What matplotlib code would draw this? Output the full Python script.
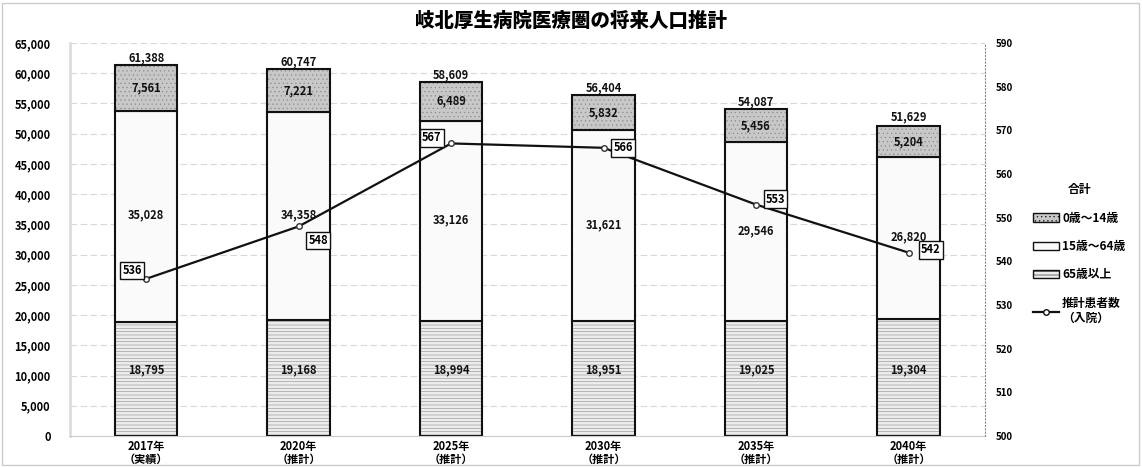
import numpy as np
import matplotlib.pyplot as plt
from matplotlib.lines import Line2D
from matplotlib.patches import Patch

plt.rcParams['font.family'] = ['Noto Sans CJK JP', 'DejaVu Sans']
plt.rcParams['hatch.linewidth'] = 0.4

# data
years = ['2017年\n（実績）', '2020年\n（推計）', '2025年\n（推計）',
         '2030年\n（推計）', '2035年\n（推計）', '2040年\n（推計）']
age_0_14 = [7561, 7221, 6489, 5832, 5456, 5204]
age_15_64 = [35028, 34358, 33126, 31621, 29546, 26820]
age_65 = [18795, 19168, 18994, 18951, 19025, 19304]
totals = [61388, 60747, 58609, 56404, 54087, 51629]
patients = [536, 548, 567, 566, 553, 542]

fig = plt.figure(figsize=(11.42, 4.67), dpi=100)
ax = fig.add_axes([0.0613, 0.0664, 0.801, 0.8415])
ax2 = ax.twinx()

x = np.arange(len(years))
w = 0.41
b1 = ax.bar(x, age_65, w, color='#ececec', edgecolor='#111111', lw=1.5,
            hatch='-----', zorder=2)
b2 = ax.bar(x, age_15_64, w, bottom=age_65, color='#fafafa', edgecolor='#111111',
            lw=1.5, zorder=2)
bot3 = np.array(age_65) + np.array(age_15_64)
b3 = ax.bar(x, age_0_14, w, bottom=bot3, color='#c8c8c8', edgecolor='#111111',
            lw=1.5, hatch='....', zorder=2)
for p in list(b1) + list(b3):
    p._hatch_color = (0.55, 0.55, 0.55, 1)

tkw = dict(ha='center', va='center', fontsize=8, fontweight='bold', color='#111111', zorder=4)
for i in range(len(x)):
    ax.text(x[i], 11000, format(age_65[i], ','), **tkw)
    ax.text(x[i], age_65[i] + age_15_64[i] / 2 + 200, format(age_15_64[i], ','), **tkw)
    ax.text(x[i], bot3[i] + age_0_14[i] / 2, format(age_0_14[i], ','), **tkw)
    ax.text(x[i], totals[i] + 1200, format(totals[i], ','), **tkw)

ax.set_xlim(-0.5, 5.5)
ax.set_ylim(0, 65000)
ax.set_yticks(np.arange(0, 65001, 5000))
ax.set_yticklabels([format(v, ',') for v in range(0, 65001, 5000)])
ax.set_xticks(x)
ax.set_xticklabels(years, fontsize=8, fontweight='bold', linespacing=1.0)
ax.tick_params(axis='y', labelsize=8, length=0, pad=14)
ax.tick_params(axis='x', length=0, pad=3)
for l in ax.get_yticklabels():
    l.set_fontweight('bold')
ax.grid(axis='y', color='#d8d8d8', lw=0.8, ls=(0, (6, 3)), zorder=0)
ax.set_axisbelow(True)
for s in ['top', 'right']:
    ax.spines[s].set_visible(False)
ax.spines['left'].set_color('#dddddd')
ax.spines['left'].set_linewidth(2)
ax.spines['bottom'].set_color('#cccccc')

ax2.plot(x, patients, color='#111111', lw=1.6, marker='o', ms=4,
         mfc='white', mec='#333333', zorder=5)
ax2.set_ylim(500, 590)
ax2.set_yticks(np.arange(500, 591, 10))
ax2.tick_params(axis='y', labelsize=7, length=0, pad=8)
for l in ax2.get_yticklabels():
    l.set_fontweight('bold')
for s in ['top', 'left', 'bottom']:
    ax2.spines[s].set_visible(False)
ax2.spines['right'].set_linestyle((0, (1, 2)))
ax2.spines['right'].set_color('#888888')

offsets = [(-10, 6), (14, -10), (-14, 4), (14, 0), (14, 4), (16, 2)]
for i in range(len(x)):
    ax2.annotate(str(patients[i]), (x[i], patients[i]), xytext=offsets[i],
                 textcoords='offset points', ha='center', va='center',
                 fontsize=8, fontweight='bold', zorder=6,
                 bbox=dict(boxstyle='square,pad=0.2', fc='white', ec='#111111', lw=1))

fig.text(0.50, 0.955, '岐北厚生病院医療圏の将来人口推計', ha='center', va='center',
         fontsize=14, fontweight='heavy')

handles = [Patch(fc='#c8c8c8', ec='#111111', hatch='....'),
           Patch(fc='#fafafa', ec='#111111'),
           Patch(fc='#ececec', ec='#111111', hatch='-----'),
           Line2D([], [], color='#111111', lw=1.6, marker='o', ms=4, mfc='white')]
labels = ['0歳～14歳', '15歳～64歳', '65歳以上', '推計患者数\n（入院）']
leg = fig.legend(handles, labels, loc='upper left', bbox_to_anchor=(0.895, 0.63),
                 title='合計', frameon=False, fontsize=8.5, title_fontsize=8.5,
                 handlelength=2.2, handleheight=0.7, labelspacing=1.3, handletextpad=0.3)
for t in leg.get_texts():
    t.set_fontweight('bold')
leg.get_title().set_fontweight('bold')

fig.patches.append(plt.Rectangle((0.002, 0.004), 0.995, 0.99, transform=fig.transFigure,
                                 fill=False, ec='#cccccc', lw=1))

fig.savefig('out.png', dpi=100)
